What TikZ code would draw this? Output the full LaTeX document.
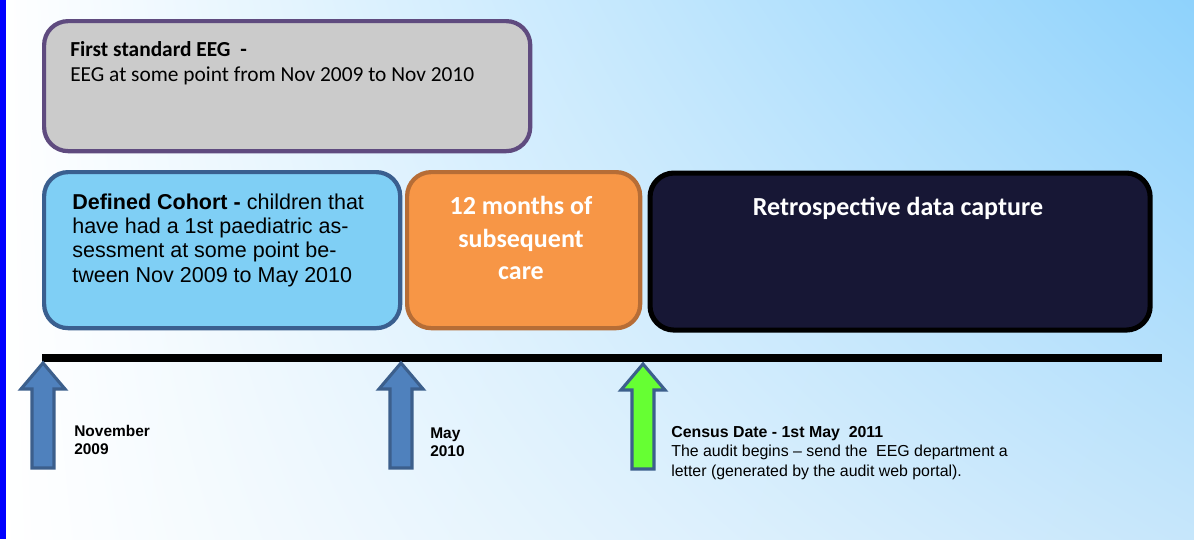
\documentclass[tikz,border=0pt]{standalone}
\usepackage{fontspec}
\setmainfont{Liberation Sans}
\newfontfamily\calibri{Carlito}
\usetikzlibrary{positioning,shadings}

\definecolor{eeggrey}{HTML}{CBCBCB}
\definecolor{eegborder}{HTML}{5F4B7F}
\definecolor{cohortblue}{HTML}{7FCFF5}
\definecolor{cohortborder}{HTML}{3A5F8F}
\definecolor{careorange}{HTML}{F79646}
\definecolor{careborder}{HTML}{B66D36}
\definecolor{capturenavy}{HTML}{171735}
\definecolor{arrowblue}{HTML}{4F81BD}
\definecolor{arrowborder}{HTML}{3C5F8C}
\definecolor{censusgreen}{HTML}{66FF33}
\definecolor{skyright}{HTML}{8ED2FC}
\definecolor{skylow}{HTML}{C6E6FB}

\tikzset{
  uparrow/.pic={
    \draw[line width=2.2pt, draw=arrowborder, fill=#1]
      (0,0) -- (22,26) -- (11,26) -- (11,105) -- (-11,105) -- (-11,26) -- (-22,26) -- cycle;
  }
}

\begin{document}
\begin{tikzpicture}[x=0.025cm, y=-0.025cm,
    box/.style = {rounded corners=0.6cm, line width=3pt, anchor=north west, inner sep=0pt},
    boxtext/.style = {inner sep=0pt, align=left, anchor=north west},
    whitetext/.style = {inner sep=0pt, align=center, text=white, font=\calibri\bfseries\fontsize{18.5}{23}\selectfont},
    datelabel/.style = {inner sep=0pt, align=left, anchor=west, font=\bfseries\fontsize{11}{13}\selectfont}]
  % background
  \useasboundingbox (0,0) rectangle (1194,539);
  \shade[upper left=white, lower left=white, upper right=skyright, lower right=skylow] (0,0) rectangle (1194,539);
  \fill[blue] (0,0) rectangle (6,539);

  % boxes
  \node[box, draw=eegborder, fill=eeggrey, minimum width=12.15cm, minimum height=3.25cm] (eeg) at (42,19) {};
  \node[box, draw=cohortborder, fill=cohortblue, minimum width=8.9cm, minimum height=3.9cm] (cohort) at (42,170) {};
  \node[box, draw=careborder, fill=careorange, minimum width=5.825cm, minimum height=3.9cm] (care) at (405,170) {};
  \node[box, draw=black, line width=3.6pt, fill=capturenavy, minimum width=12.5cm, minimum height=3.925cm] (capture) at (647.5,170.5) {};

  % box texts
  \node[boxtext, font=\calibri\fontsize{15.2}{17.9}\selectfont, below right=0.55cm and 0.7cm of eeg.north west] (eegtext)
    {\textbf{First standard EEG~ -}\\EEG at some point from Nov 2009 to Nov 2010};
  \node[boxtext, font=\fontsize{15.3}{17.3}\selectfont, below right=0.58cm and 0.75cm of cohort.north west] (cohorttext)
    {\textbf{Defined Cohort -} children that\\have had a 1st paediatric as-\\sessment at some point be-\\tween Nov 2009 to May 2010};
  \node[whitetext] (caretext) at (521,238) {12 months of\\subsequent\\care};
  \node[whitetext] (capturetext) at (898,208) {Retrospective data capture};

  % timeline
  \coordinate (tstart) at (42,358);
  \coordinate (tend) at (1162,358);
  \draw[line width=5.7pt] (tstart) -- (tend);

  % arrows
  \coordinate (nov) at (43,363);
  \coordinate (may) at (401,363);
  \coordinate (census) at (643,364);
  \foreach \tick/\col in {nov/arrowblue, may/arrowblue, census/censusgreen}
    \pic at (\tick) {uparrow=\col};

  % date labels
  \node[datelabel] (novlabel) at (74,440) {November\\2009};
  \node[datelabel] (maylabel) at (430,442) {May\\2010};
  \node[datelabel, font=\fontsize{11.3}{13.6}\selectfont] (censuslabel) at (671,453)
    {\textbf{Census Date - 1st May~ 2011}\\The audit begins -- send the~ EEG department a\\letter (generated by the audit web portal).};
\end{tikzpicture}
\end{document}
